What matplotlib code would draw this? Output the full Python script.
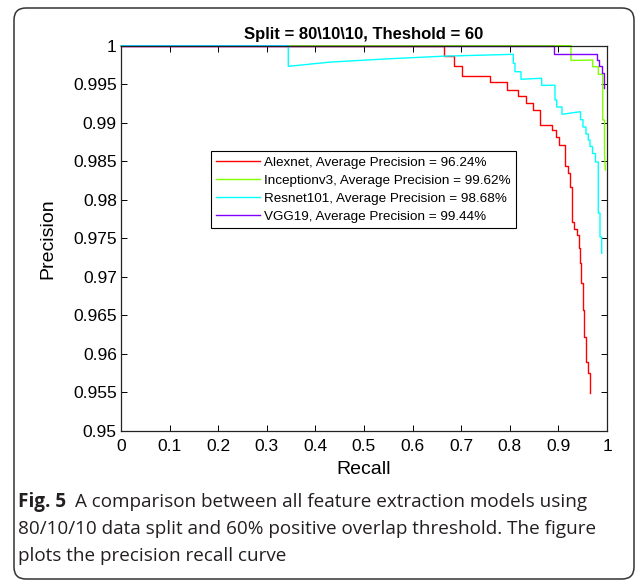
import matplotlib

matplotlib.use("Agg")
import matplotlib.pyplot as plt
from matplotlib.patches import FancyBboxPatch
from matplotlib.transforms import IdentityTransform

plt.rcParams["font.family"] = ["Liberation Sans", "DejaVu Sans"]

# values (recall, precision vertices of each curve)
models = ["Alexnet", "Inceptionv3", "Resnet101", "VGG19"]
avg_precision = [96.24, 99.62, 98.68, 99.44]
colors = [(1, 0, 0), (0.5, 1, 0), (0, 1, 1), (0.5, 0, 1)]

alexnet_recall = [0, 0.6646, 0.6646, 0.6858, 0.6858, 0.7023, 0.7023, 0.7593, 0.7593, 0.7949, 0.7949,
                  0.8175, 0.8175, 0.8327, 0.8327, 0.8484, 0.8484, 0.8621, 0.8621, 0.8875, 0.8875,
                  0.8944, 0.8944, 0.9012, 0.9012, 0.9146, 0.9146, 0.9204, 0.9204, 0.9239, 0.9239,
                  0.9280, 0.9280, 0.9327, 0.9327, 0.9377, 0.9377, 0.9418, 0.9418, 0.9444, 0.9444,
                  0.9471, 0.9471, 0.9500, 0.9500, 0.9527, 0.9527, 0.9562, 0.9562, 0.9609, 0.9609,
                  0.9650, 0.9650]
alexnet_precision = [1, 1, 0.99870, 0.99870, 0.99736, 0.99736, 0.99610, 0.99610, 0.99525, 0.99525, 0.99425,
                     0.99425, 0.99351, 0.99351, 0.99260, 0.99260, 0.99165, 0.99165, 0.98970, 0.98970, 0.98905,
                     0.98905, 0.98810, 0.98810, 0.98710, 0.98710, 0.98434, 0.98434, 0.98351, 0.98351, 0.98169,
                     0.98169, 0.97714, 0.97714, 0.97616, 0.97616, 0.97542, 0.97542, 0.97369, 0.97369, 0.97174,
                     0.97174, 0.96914, 0.96914, 0.96568, 0.96568, 0.96221, 0.96221, 0.95896, 0.95896, 0.95745,
                     0.95745, 0.95486]

inception_recall = [0, 0.9259, 0.9259, 0.9706, 0.9706, 0.9821, 0.9821, 0.9912, 0.9912, 0.9949, 0.9949, 0.9965]
inception_precision = [1, 1, 0.99808, 0.99814, 0.99727, 0.99727, 0.99629, 0.99629, 0.99035, 0.99035, 0.98600, 0.98386]

resnet_recall = [0, 0.3442, 0.3442, 0.4300, 0.5535, 0.6646, 0.8072, 0.8072, 0.8107, 0.8107, 0.8230, 0.8230,
                 0.8656, 0.8656, 0.8930, 0.8930, 0.8965, 0.8965, 0.9074, 0.9074, 0.9455, 0.9455, 0.9506,
                 0.9506, 0.9568, 0.9568, 0.9615, 0.9615, 0.9650, 0.9650, 0.9702, 0.9702, 0.9763, 0.9763,
                 0.9821, 0.9821, 0.9856, 0.9856, 0.9891, 0.9891]
resnet_precision = [1, 1, 0.99732, 0.99787, 0.99831, 0.99864, 0.99888, 0.99771, 0.99771, 0.99662, 0.99662,
                    0.99564, 0.99577, 0.99485, 0.99486, 0.99295, 0.99295, 0.99204, 0.99204, 0.99109, 0.99143,
                    0.99039, 0.99039, 0.98944, 0.98944, 0.98853, 0.98853, 0.98775, 0.98775, 0.98691, 0.98691,
                    0.98600, 0.98600, 0.98490, 0.98490, 0.97827, 0.97827, 0.97516, 0.97516, 0.97304]

vgg_recall = [0, 0.8916, 0.8916, 0.9788, 0.9788, 0.9842, 0.9842, 0.9891, 0.9891, 0.9938, 0.9938]
vgg_precision = [1, 1, 0.99892, 0.99892, 0.99814, 0.99814, 0.99736, 0.99736, 0.99645, 0.99645, 0.99447]

curves = [(alexnet_recall, alexnet_precision), (inception_recall, inception_precision),
          (resnet_recall, resnet_precision), (vgg_recall, vgg_precision)]

x_ticks = [0, 0.1, 0.2, 0.3, 0.4, 0.5, 0.6, 0.7, 0.8, 0.9, 1]
x_tick_labels = ["0", "0.1", "0.2", "0.3", "0.4", "0.5", "0.6", "0.7", "0.8", "0.9", "1"]
y_ticks = [0.95, 0.955, 0.96, 0.965, 0.97, 0.975, 0.98, 0.985, 0.99, 0.995, 1]
y_tick_labels = ["0.95", "0.955", "0.96", "0.965", "0.97", "0.975", "0.98", "0.985", "0.99", "0.995", "1"]

title = "Split = 80\\10\\10, Theshold = 60"
caption_head = "Fig. 5"
caption_lines = [
    "A comparison between all feature extraction models using",
    "80/10/10 data split and 60% positive overlap threshold. The figure",
    "plots the precision recall curve",
]

W, H = 636, 582
fig = plt.figure(figsize=(W / 100, H / 100), dpi=100)
fig.patch.set_facecolor("white")

# rounded frame around figure + caption
frame = FancyBboxPatch((14, 3), 620, 571, boxstyle="round,pad=0,rounding_size=12",
                       transform=IdentityTransform(), facecolor="none", edgecolor="#333333", lw=1.1)
fig.patches.append(frame)

ax = fig.add_axes([121 / W, 1 - 430.7 / H, 486 / W, 385 / H])
for (rec, prec), name, ap, c in zip(curves, models, avg_precision, colors):
    ax.plot(rec, prec, color=c, lw=1.0, clip_on=False,
            label=f"{name}, Average Precision = {ap:.2f}%")

ax.set_xlim(0, 1)
ax.set_ylim(0.95, 1)
ax.set_xticks(x_ticks)
ax.set_xticklabels(x_tick_labels)
ax.set_yticks(y_ticks)
ax.set_yticklabels(y_tick_labels)
ax.tick_params(direction="in", length=4.5, width=0.7, top=True, right=True, labelsize=12.5, colors="black")
ax.tick_params(axis="x", pad=6)
ax.tick_params(axis="y", pad=3)
for s in ax.spines.values():
    s.set_linewidth(0.9)
    s.set_color("#222222")

ax.set_title(title, fontsize=12, fontweight="bold", pad=5)
ax.set_xlabel("Recall", fontsize=14, labelpad=5)
ax.set_ylabel("Precision", fontsize=14, labelpad=12)

leg = ax.legend(loc="upper left", bbox_to_anchor=(0.1852, 0.7265), borderaxespad=0, fontsize=9.7,
                handlelength=3.2, handletextpad=0.35, labelspacing=0.42, borderpad=0.4,
                fancybox=False, framealpha=1, edgecolor="black")
leg.get_frame().set_linewidth(0.8)

# caption below the chart
cap_font = ["Open Sans", "DejaVu Sans"]
cap_color = "#231f20"
cap_size = 13.6
baselines = [507, 534, 561]
head = fig.text(18 / W, 1 - baselines[0] / H, caption_head, fontsize=cap_size, fontweight="bold",
                family=cap_font, color=cap_color, va="baseline")
fig.canvas.draw()
head_right = head.get_window_extent().x1
fig.text((head_right + 9) / W, 1 - baselines[0] / H, caption_lines[0], fontsize=cap_size,
         family=cap_font, color=cap_color, va="baseline")
for line, b in zip(caption_lines[1:], baselines[1:]):
    fig.text(18 / W, 1 - b / H, line, fontsize=cap_size, family=cap_font, color=cap_color, va="baseline")

fig.savefig("out.png", dpi=100, facecolor="white")
